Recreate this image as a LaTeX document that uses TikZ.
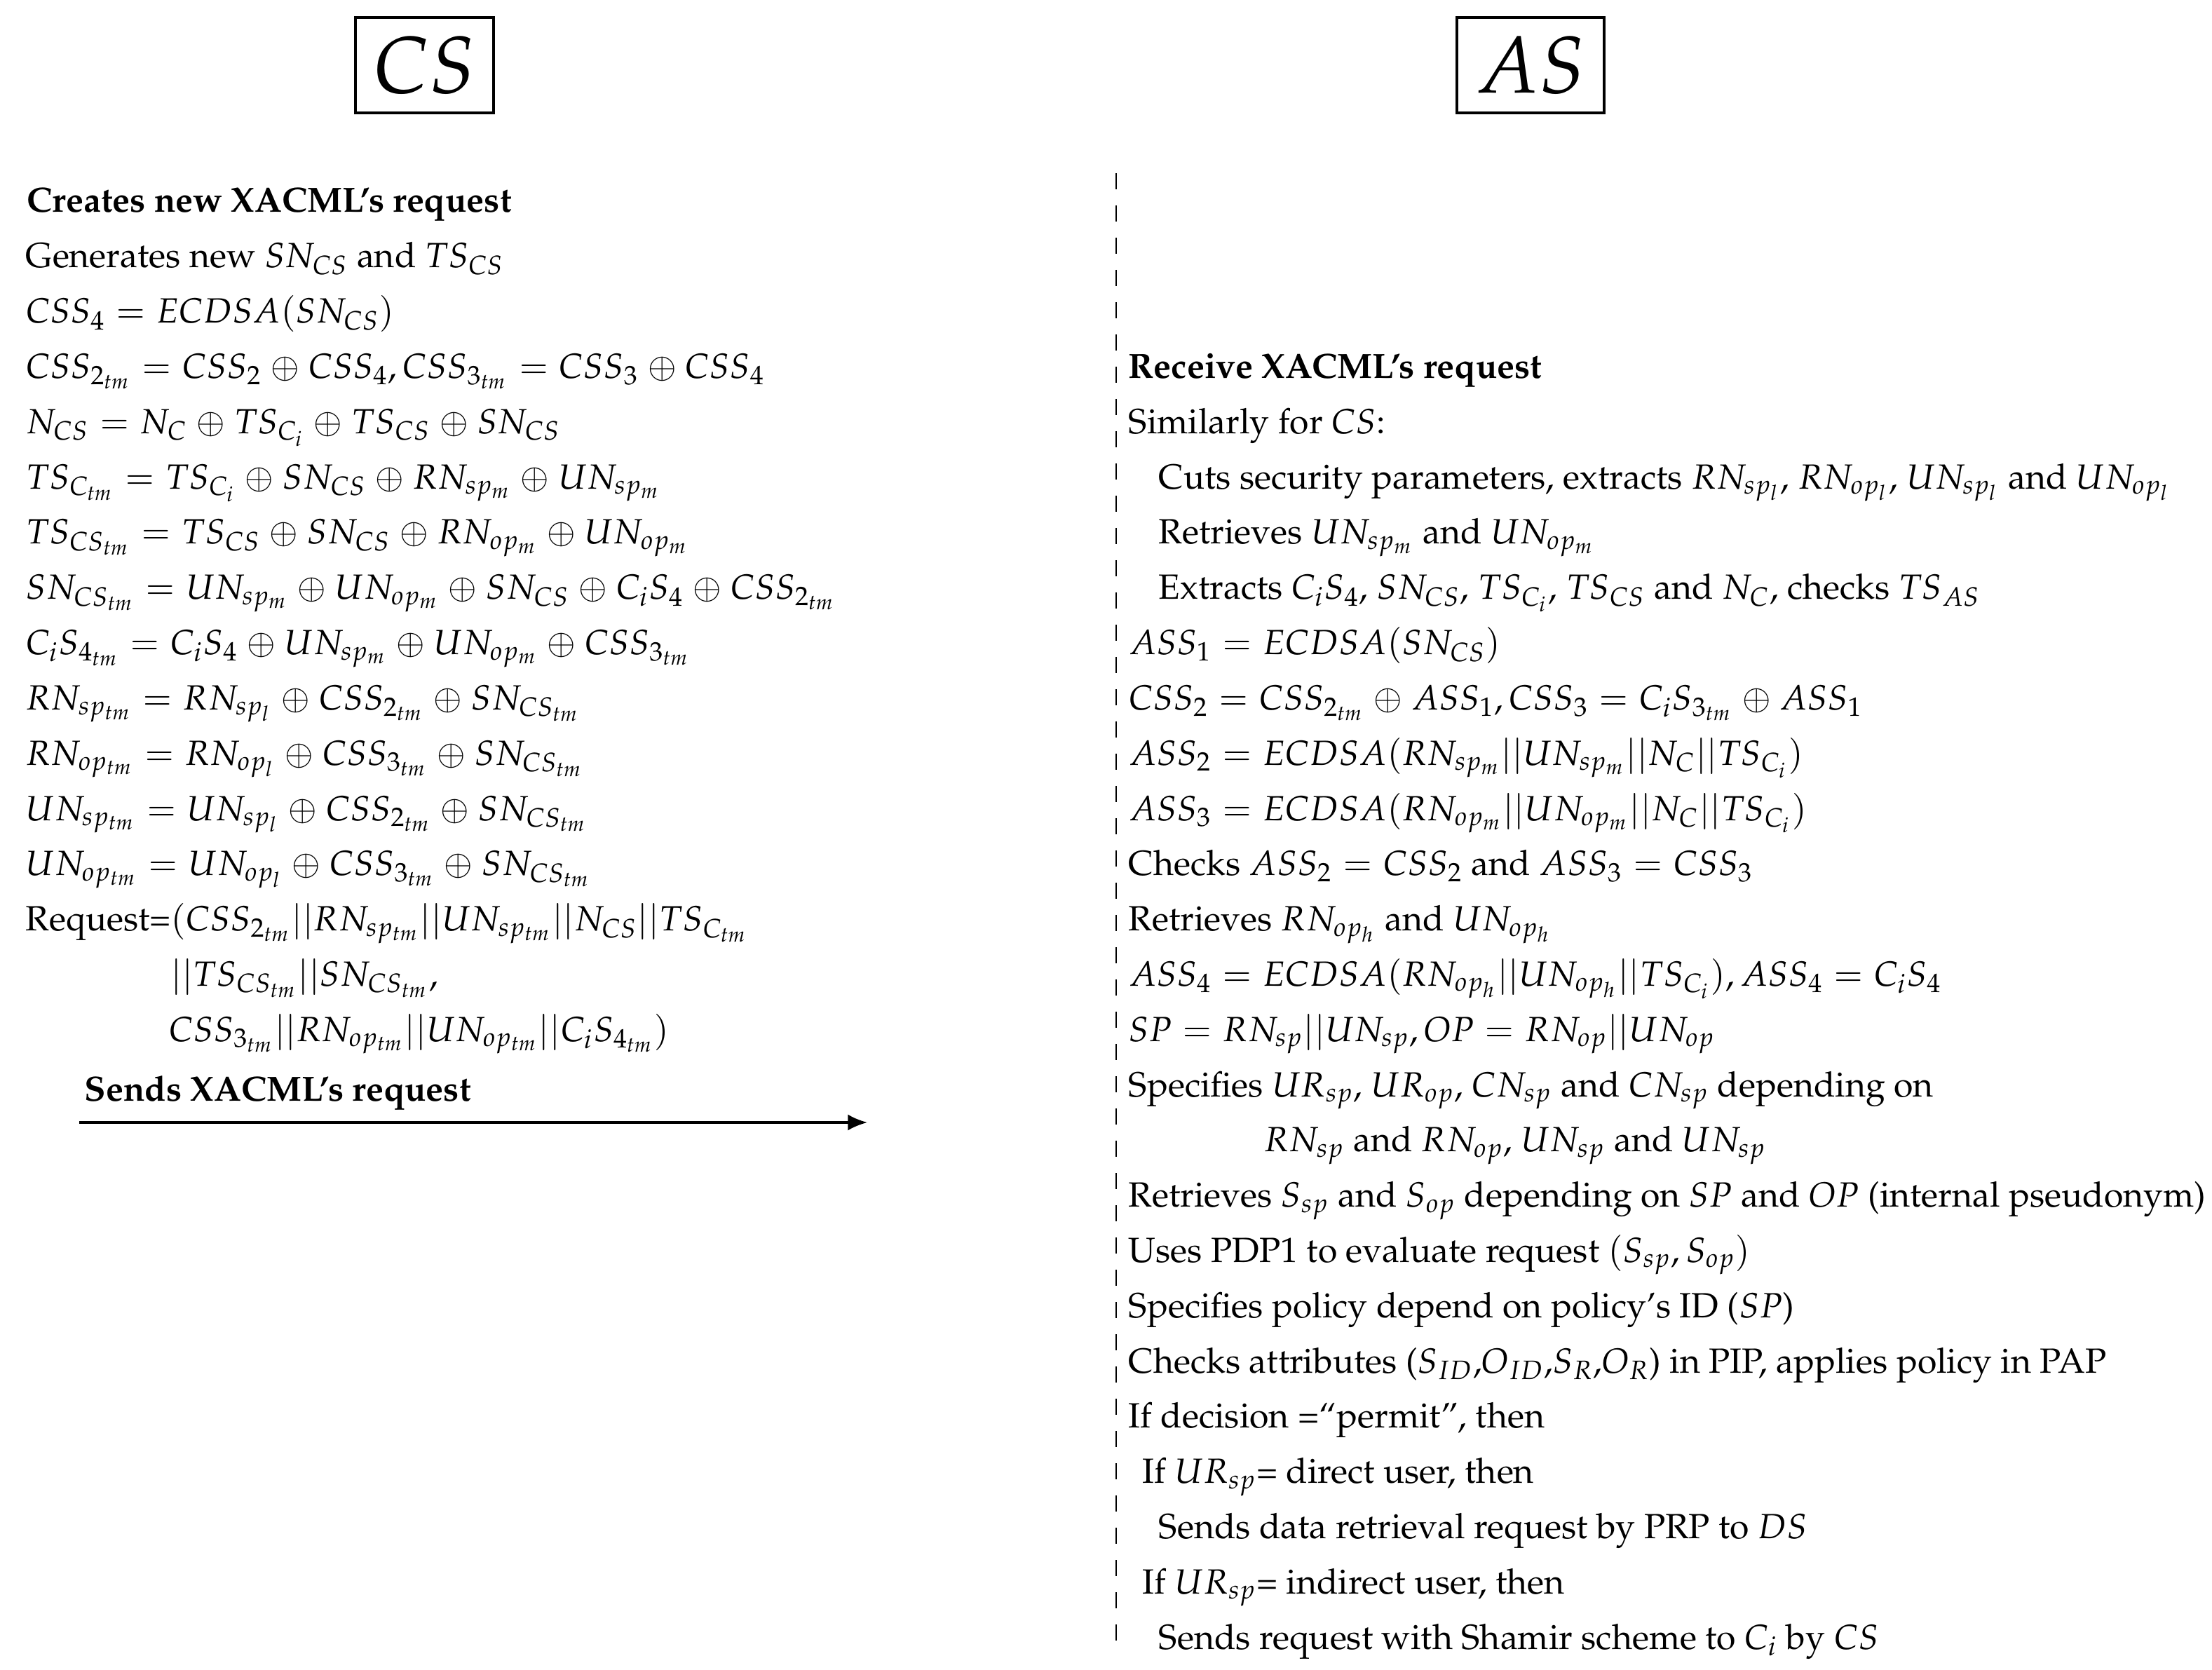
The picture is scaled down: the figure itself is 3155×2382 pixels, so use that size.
\documentclass[tikz,border=0pt]{standalone}
\usepackage[T1]{fontenc}
\usepackage{mathpazo}
\usetikzlibrary{arrows.meta}
\medmuskip=4.45mu plus 2mu minus 4mu
\thickmuskip=5.55mu plus 5mu
\begin{document}
\begin{tikzpicture}[x=0.21739pt,y=-0.21739pt,
  txt/.style={anchor=base west,inner sep=0pt,font=\fontsize{10.85}{13}\selectfont},
  hdr/.style={draw,line width=0.8pt,minimum height=29.6pt,inner sep=0pt,font=\Huge},
  lifeline/.style={line width=0.5pt,dash pattern=on 5pt off 5pt},
  msg/.style={line width=0.7pt,-{Latex[length=6pt,width=5pt]}}]
\useasboundingbox (0,0) rectangle (3155,2382);
% headers
\node[hdr,minimum width=42.8pt] (cs) at (605.5,93) {$CS$};
\node[hdr,minimum width=45.7pt] (as) at (2183,93) {$AS$};
% lifeline
\coordinate (d1) at (1592,247);
\coordinate (d2) at (1592,2360);
\draw[lifeline] (d1) -- (d2);
% left column
\node[txt] (l0) at (38,303) {\textbf{Creates new XACML's request}};
\node[txt] (l1) at (36,382) {Generates new $SN_{CS}$ and $TS_{CS}$};
\node[txt] (l2) at (36,460.8) {$CSS_4 = ECDSA(SN_{CS})$};
\node[txt] (l3) at (36,539.6) {$CSS_{2_{tm}} = CSS_2 \oplus CSS_4, CSS_{3_{tm}} = CSS_3 \oplus CSS_4$};
\node[txt] (l4) at (36,618.4) {$N_{CS} = N_C \oplus TS_{C_i} \oplus TS_{CS} \oplus SN_{CS}$};
\node[txt] (l5) at (36,697.2) {$TS_{C_{tm}} = TS_{C_i} \oplus SN_{CS} \oplus RN_{sp_m} \oplus UN_{sp_m}$};
\node[txt] (l6) at (36,776) {$TS_{CS_{tm}} = TS_{CS} \oplus SN_{CS} \oplus RN_{op_m} \oplus UN_{op_m}$};
\node[txt] (l7) at (36,854.8) {$SN_{CS_{tm}} = UN_{sp_m} \oplus UN_{op_m} \oplus SN_{CS} \oplus C_iS_4 \oplus CSS_{2_{tm}}$};
\node[txt] (l8) at (36,933.6) {$C_iS_{4_{tm}} = C_iS_4 \oplus UN_{sp_m} \oplus UN_{op_m} \oplus CSS_{3_{tm}}$};
\node[txt] (l9) at (36,1012.4) {$RN_{sp_{tm}} = RN_{sp_l} \oplus CSS_{2_{tm}} \oplus SN_{CS_{tm}}$};
\node[txt] (l10) at (36,1091.2) {$RN_{op_{tm}} = RN_{op_l} \oplus CSS_{3_{tm}} \oplus SN_{CS_{tm}}$};
\node[txt] (l11) at (36,1170) {$UN_{sp_{tm}} = UN_{sp_l} \oplus CSS_{2_{tm}} \oplus SN_{CS_{tm}}$};
\node[txt] (l12) at (36,1248.8) {$UN_{op_{tm}} = UN_{op_l} \oplus CSS_{3_{tm}} \oplus SN_{CS_{tm}}$};
\node[txt] (l13) at (36,1327.6) {Request=$(CSS_{2_{tm}}||RN_{sp_{tm}}||UN_{sp_{tm}}||N_{CS}||TS_{C_{tm}}$};
\node[txt] (l14) at (243,1406.4) {$||TS_{CS_{tm}}||SN_{CS_{tm}},$};
\node[txt] (l15) at (240,1485.2) {$CSS_{3_{tm}}||RN_{op_{tm}}||UN_{op_{tm}}||C_iS_{4_{tm}})$};
\node[txt] (l16) at (120,1570) {\textbf{Sends XACML's request}};
\coordinate (a1) at (113,1601);
\coordinate (a2) at (1237,1601);
\draw[msg] (a1) -- (a2);
% right column
\node[txt] (r2) at (1609,539.6) {\textbf{Receive XACML's request}};
\node[txt] (r3) at (1609,618.4) {Similarly for $CS$:};
\node[txt] (r4) at (1652,697.2) {Cuts security parameters, extracts $RN_{sp_l}$, $RN_{op_l}$, $UN_{sp_l}$ and $UN_{op_l}$};
\node[txt] (r5) at (1652,776) {Retrieves $UN_{sp_m}$ and $UN_{op_m}$};
\node[txt] (r6) at (1652,854.8) {Extracts $C_iS_4$, $SN_{CS}$, $TS_{C_i}$, $TS_{CS}$ and $N_C$, checks $TS_{AS}$};
\node[txt] (r7) at (1609,933.6) {$ASS_1 = ECDSA(SN_{CS})$};
\node[txt] (r8) at (1609,1012.4) {$CSS_2 = CSS_{2_{tm}} \oplus ASS_1, CSS_3 = C_iS_{3_{tm}} \oplus ASS_1$};
\node[txt] (r9) at (1609,1091.2) {$ASS_2 = ECDSA(RN_{sp_m}||UN_{sp_m}||N_C||TS_{C_i})$};
\node[txt] (r10) at (1609,1170) {$ASS_3 = ECDSA(RN_{op_m}||UN_{op_m}||N_C||TS_{C_i})$};
\node[txt] (r11) at (1609,1248.8) {Checks $ASS_2 = CSS_2$ and $ASS_3 = CSS_3$};
\node[txt] (r12) at (1609,1327.6) {Retrieves $RN_{op_h}$ and $UN_{op_h}$};
\node[txt] (r13) at (1609,1406.4) {$ASS_4 = ECDSA(RN_{op_h}||UN_{op_h}||TS_{C_i}), ASS_4 = C_iS_4$};
\node[txt] (r14) at (1609,1485.2) {$SP = RN_{sp}||UN_{sp}, OP = RN_{op}||UN_{op}$};
\node[txt] (r15) at (1609,1564) {Specifies $UR_{sp}$, $UR_{op}$, $CN_{sp}$ and $CN_{sp}$ depending on};
\node[txt] (r16) at (1802,1642.8) {$RN_{sp}$ and $RN_{op}$, $UN_{sp}$ and $UN_{sp}$};
\node[txt] (r17) at (1609,1721.6) {Retrieves $S_{sp}$ and $S_{op}$ depending on $SP$ and $OP$ (internal pseudonym)};
\node[txt] (r18) at (1609,1800.4) {Uses PDP1 to evaluate request $(S_{sp}, S_{op})$};
\node[txt] (r19) at (1609,1879.2) {Specifies policy depend on policy's ID ($SP$)};
\node[txt] (r20) at (1609,1958) {Checks attributes ($S_{ID}$,$O_{ID}$,$S_R$,$O_R$) in PIP, applies policy in PAP};
\node[txt] (r21) at (1609,2036.8) {If decision =``permit'', then};
\node[txt] (r22) at (1629,2115.6) {If $UR_{sp}$= direct user, then};
\node[txt] (r23) at (1652,2194.4) {Sends data retrieval request by PRP to $DS$};
\node[txt] (r24) at (1629,2273.2) {If $UR_{sp}$= indirect user, then};
\node[txt] (r25) at (1652,2352) {Sends request with Shamir scheme to $C_i$ by $CS$};
\end{tikzpicture}
\end{document}
